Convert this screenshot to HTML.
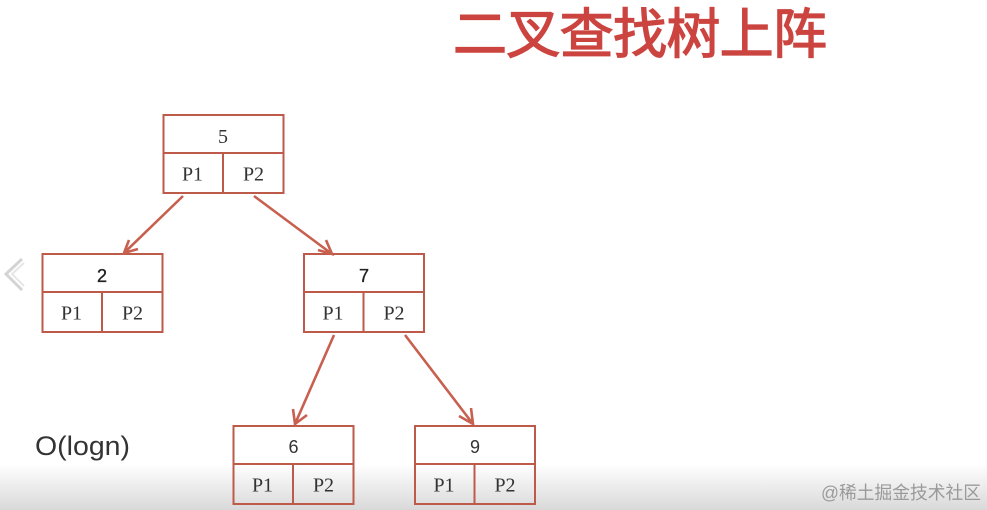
<!DOCTYPE html>
<html><head><meta charset="utf-8">
<style>
html,body{margin:0;padding:0;background:#fff}
#c{position:relative;width:987px;height:510px;overflow:hidden;background:#fff}
#g{position:absolute;left:0;top:464px;width:987px;height:46px;background:linear-gradient(#fff,#d9d9d9)}
svg{position:absolute;left:0;top:0;filter:blur(0.35px)}
</style></head><body>
<div id="c">
<div id="g"></div>
<svg width="987" height="510" viewBox="0 0 987 510" xmlns="http://www.w3.org/2000/svg">
<defs>
<g id="n" fill="none" stroke="#bd5a4a" stroke-width="2">
<rect x="0" y="0" width="120" height="78"/>
<line x1="0" y1="38" x2="120" y2="38"/>
<line x1="59.500" y1="38" x2="59.500" y2="78"/>
</g>
<g id="p" font-family="'Liberation Serif',serif" font-size="20" fill="#333" text-anchor="middle">
<text x="29" y="65.500">P1</text><text x="90" y="65.500">P2</text>
</g>
</defs>
<text x="640" y="53" text-anchor="middle" font-family="'Liberation Sans','Noto Sans CJK SC',sans-serif" font-size="54" font-weight="400" fill="#cc4440" stroke="#cc4440" stroke-width="1.300" textLength="374">二叉查找树上阵</text>
<g transform="translate(163.500,115)"><use href="#n"/><use href="#p"/><text x="59.500" y="28" font-family="'Liberation Serif',serif" font-size="20" fill="#333" text-anchor="middle">5</text></g>
<g transform="translate(42.500,254)"><use href="#n"/><use href="#p"/><text x="59.500" y="28" font-family="'Liberation Sans',sans-serif" font-size="18" fill="#222" stroke="#222" stroke-width="0.350" text-anchor="middle">2</text></g>
<g transform="translate(304,254)"><use href="#n"/><use href="#p"/><text x="60" y="28" font-family="'Liberation Sans',sans-serif" font-size="18" fill="#222" stroke="#222" stroke-width="0.350" text-anchor="middle">7</text></g>
<g transform="translate(233.500,426)"><use href="#n"/><use href="#p"/><text x="60" y="27" font-family="'Liberation Sans',sans-serif" font-size="18" fill="#333" text-anchor="middle">6</text></g>
<g transform="translate(415,426)"><use href="#n"/><use href="#p"/><text x="60" y="27" font-family="'Liberation Sans',sans-serif" font-size="18" fill="#333" text-anchor="middle">9</text></g>
<g fill="none" stroke="#c8604f" stroke-width="2.600">
<path d="M183 196L124 253M129 240L124 253L138 249"/>
<path d="M254 196L332 254M318 250L332 254L326 240"/>
<path d="M334 335L295 424M293 409L295 424L307 415"/>
<path d="M405 335L473 424M459 416L473 424L471 408"/>
</g>
<path d="M22 259L6 274L22 290" fill="none" stroke="#d4d4d4" stroke-width="3"/>
<path d="M24 263L12 274L24 286" fill="none" stroke="#e6e6e6" stroke-width="2"/>
<text x="35" y="455" font-family="'Liberation Sans',sans-serif" font-size="27" fill="#333" textLength="95" lengthAdjust="spacingAndGlyphs">O(logn)</text>
<text x="821" y="499" font-family="'Liberation Sans','Noto Sans CJK SC',sans-serif" font-size="18" fill="#9a9a9a" textLength="160" lengthAdjust="spacingAndGlyphs">@稀土掘金技术社区</text>
</svg>
</div>
</body></html>
